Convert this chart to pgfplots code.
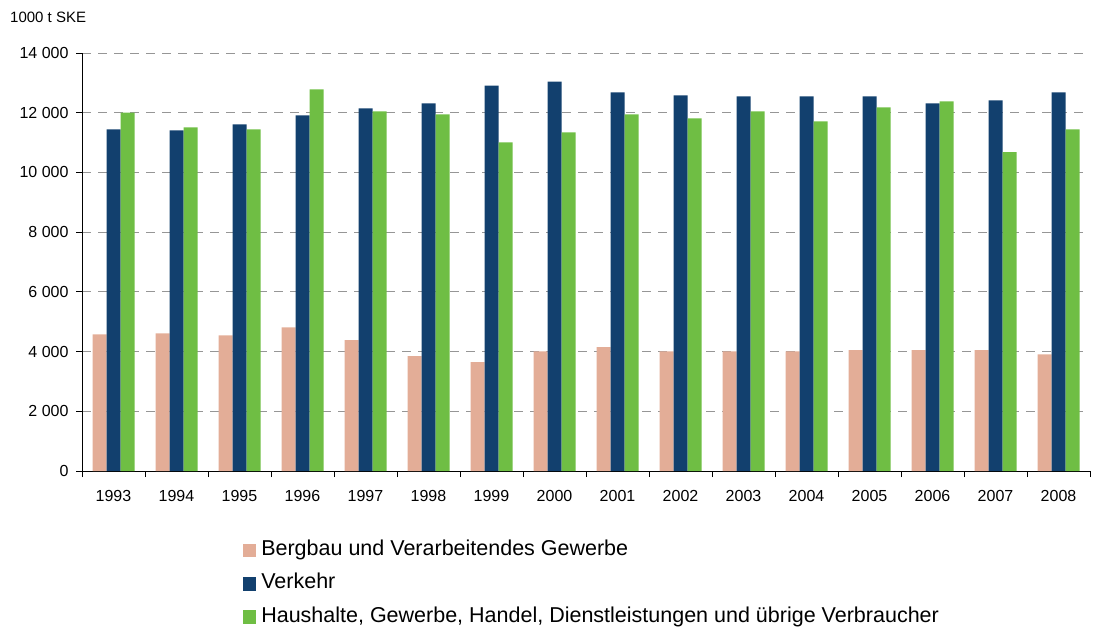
\documentclass[border=0pt]{standalone}
\usepackage{fontspec}
\setmainfont{Liberation Sans}
\usepackage{pgfplots}
\pgfplotsset{compat=1.18}
\definecolor{cPink}{RGB}{227,173,151}
\definecolor{cBlue}{RGB}{18,64,110}
\definecolor{cGreen}{RGB}{111,190,68}
\definecolor{cGrid}{RGB}{150,150,150}
\begin{document}
\begin{tikzpicture}[x=1bp,y=1bp]
\path[use as bounding box] (0,0) rectangle (1097,-628);
\node[anchor=west,font=\fontsize{15bp}{17bp}\selectfont,inner sep=0] at (10,-17) {1000 t SKE};
\begin{axis}[
  at={(82bp,-471bp)}, anchor=south west,
  scale only axis, width=1008bp, height=418bp,
  xmin=-0.5, xmax=15.5, ymin=0, ymax=14000,
  scaled y ticks=false,
  ybar=0pt, bar width=14bp,
  axis x line*=bottom, axis y line*=left,
  axis line style={-, black, line width=1bp},
  tick align=outside,
  major tick length=6bp, minor tick length=6bp,
  tick style={black, line width=1bp},
  xtick={0,...,15},
  xticklabels={1993,1994,1995,1996,1997,1998,1999,2000,2001,2002,2003,2004,2005,2006,2007,2008},
  major x tick style={draw=none},
  minor xtick={-0.5,0.5,...,15.5},
  ytick={0,2000,...,14000},
  yticklabels={0,2 000,4 000,6 000,8 000,10 000,12 000,14 000},
  ymajorgrids,
  grid style={cGrid, line width=0.9bp, dash pattern=on 9bp off 7bp},
  yticklabel style={font=\fontsize{16bp}{18bp}\selectfont, xshift=-4bp},
  xticklabel style={font=\fontsize{16bp}{18bp}\selectfont, yshift=-10bp},
  legend style={at={(0.1595,-0.166)}, anchor=north west, draw=none, fill=none,
    font=\fontsize{21.5bp}{24bp}\selectfont, row sep=13.3bp, column sep=4bp, inner sep=0pt,
    nodes={inner xsep=1bp, inner ysep=0bp, text height=15bp, text depth=5bp}},
  legend cell align=left,
  legend image code/.code={\fill[#1] (0bp,-6.7bp) rectangle (13.3bp,6.7bp);},
]
\addplot[fill=cPink, draw=none] coordinates {(0,4580) (1,4610) (2,4545) (3,4810) (4,4380) (5,3845) (6,3645) (7,4010) (8,4145) (9,4010) (10,4010) (11,4010) (12,4045) (13,4045) (14,4045) (15,3910)};
\addplot[fill=cBlue, draw=none] coordinates {(0,11445) (1,11410) (2,11610) (3,11910) (4,12145) (5,12310) (6,12910) (7,13045) (8,12680) (9,12580) (10,12545) (11,12545) (12,12545) (13,12310) (14,12410) (15,12680)};
\addplot[fill=cGreen, draw=none] coordinates {(0,12000) (1,11510) (2,11445) (3,12780) (4,12045) (5,11945) (6,11010) (7,11345) (8,11945) (9,11810) (10,12045) (11,11710) (12,12180) (13,12380) (14,10680) (15,11445)};
\legend{Bergbau und Verarbeitendes Gewerbe, Verkehr, {Haushalte, Gewerbe, Handel, Dienstleistungen und übrige Verbraucher}}
\end{axis}
\end{tikzpicture}
\end{document}
